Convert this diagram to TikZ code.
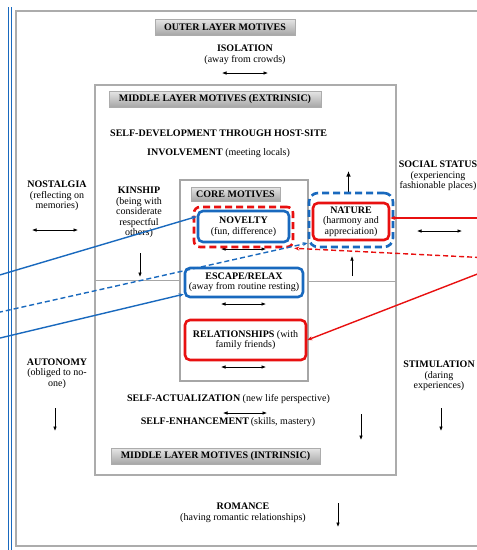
\documentclass[tikz,border=0pt]{standalone}
\usepackage{fontspec}
\setmainfont{Liberation Serif}
\usetikzlibrary{arrows.meta}
\definecolor{cblue}{RGB}{25,105,190}
\definecolor{cred}{RGB}{232,16,16}
\begin{document}
\begin{tikzpicture}[x=1pt,y=-1pt,
  every node/.style={font=\fontsize{10}{10.5}\selectfont, inner sep=0pt, align=center},
  titlebox/.style={top color=gray!20, bottom color=gray!70, draw=gray!65, line width=0.5pt,
    font=\fontsize{10}{10.5}\selectfont\bfseries, minimum height=16pt},
  dbl/.style={{Latex[length=4.5pt,width=3.6pt]}-{Latex[length=4.5pt,width=3.6pt]}, line width=0.7pt},
  dn/.style={-{Latex[length=4.5pt,width=3.6pt]}, line width=0.7pt},
  framebox/.style={draw=gray!65, line width=1.6pt},
  bluebox/.style={draw=cblue, line width=2.6pt, rounded corners=5pt},
  redbox/.style={draw=cred, line width=2.6pt, rounded corners=5pt},
  blueout/.style={draw=cblue, line width=2.6pt, rounded corners=9pt, dash pattern=on 7pt off 4pt},
  redout/.style={draw=cred, line width=2.6pt, rounded corners=6pt, dash pattern=on 7pt off 4pt},
  bconn/.style={draw=cblue, line width=1.4pt, -{Stealth[length=5pt,width=4pt]}},
  rconn/.style={draw=cred, line width=1.4pt, -{Stealth[length=5pt,width=4pt]}},
  dashc/.style={dash pattern=on 5pt off 3pt}
]
\path[use as bounding box] (0,0) rectangle (477,550);
\clip (0,0) rectangle (477,550);
\fill[white] (0,0) rectangle (477,550);

% left double blue line
\draw[cblue, line width=0.9pt] (8.5,7) -- (8.5,550);
\draw[cblue, line width=0.9pt] (11.5,7) -- (11.5,550);

% frames
\draw[framebox] (16,11) rectangle (495,546);
\draw[framebox] (95,85) rectangle (396,475);
\draw[draw=gray!70, line width=1.2pt] (180,180) rectangle (308,381);
\draw[gray!70, line width=0.8pt] (95,280) -- (180,280);
\draw[gray!70, line width=0.8pt] (308,281) -- (396,281);

% title boxes
\node[titlebox, minimum width=140pt] (outer) at (225,27) {OUTER LAYER MOTIVES};
\node[titlebox, minimum width=212pt] (extr) at (215,99) {MIDDLE LAYER MOTIVES (EXTRINSIC)};
\node[titlebox, minimum width=89pt, minimum height=14pt] (core) at (235.5,194) {CORE MOTIVES};
\node[titlebox, minimum width=209pt] (intr) at (215.5,456) {MIDDLE LAYER MOTIVES (INTRINSIC)};

% text nodes
\node (isol) at (245,55) {\textbf{ISOLATION}\\(away from crowds)};
\node[anchor=west] (selfdev) at (110,133) {\textbf{SELF-DEVELOPMENT THROUGH HOST-SITE}};
\node[anchor=west] (invol) at (147,153) {\textbf{INVOLVEMENT} (meeting locals)};
\node (nost) at (57,196) {\textbf{NOSTALGIA}\\(reflecting on\\memories)};
\node (kin) at (139,212.5) {\textbf{KINSHIP}\\(being with\\considerate\\respectful\\others)};
\node (soc) at (438,176) {\textbf{SOCIAL STATUS}\\(experiencing\\fashionable places)};
\node (auto) at (57,373.5) {\textbf{AUTONOMY}\\(obliged to no-\\one)};
\node (stim) at (439,376) {\textbf{STIMULATION}\\(daring\\experiences)};
\node (sact) at (228.5,399) {\textbf{SELF-ACTUALIZATION} (new life perspective)};
\node (senh) at (228,422) {\textbf{SELF-ENHANCEMENT}\,(skills, mastery)};
\node (rom) at (243,513) {\textbf{ROMANCE}\\(having romantic relationships)};

% small black arrows
\draw[dbl] (222,73) -- (268,73);
\draw[dbl] (32,230) -- (78,230);
\draw[dn] (140,253) -- (140,277);
\draw[dbl] (221,249) -- (266,249);
\draw[-{Latex[length=5.5pt,width=4.5pt]}, line width=1.3pt] (348.5,193) -- (348.5,171);
\draw[dn] (352,276) -- (352,256);
\draw[dbl] (417,231) -- (462,231);
\draw[dbl] (221,304) -- (266,304);
\draw[dbl] (221,367) -- (266,367);
\draw[dn] (55,408) -- (55,431);
\draw[dn] (441,408) -- (441,431);
\draw[dbl] (223,413) -- (267,413);
\draw[dn] (361,414) -- (361,440);
\draw[dn] (338,503) -- (338,527);

% core motive boxes
\node[redout, minimum width=99pt, minimum height=40pt] (novout) at (243.5,227) {};
\node[bluebox, minimum width=91pt, minimum height=31pt] (nov) at (243.5,226.5) {\textbf{NOVELTY}\\(fun, difference)};
\node[blueout, minimum width=84pt, minimum height=54pt] (natout) at (351,220) {};
\node[redbox, minimum width=76pt, minimum height=37pt] (nat) at (351,221.5) {\textbf{NATURE}\\(harmony and\\appreciation)};
\node[bluebox, minimum width=118pt, minimum height=29pt] (esc) at (244,282.5) {\textbf{ESCAPE/RELAX}\\(away from routine resting)};
\node[redbox, minimum width=121pt, minimum height=40pt] (rel) at (245.5,340) {\textbf{RELATIONSHIPS} (with\\family friends)};

% connector free ends
\coordinate (b1) at (-2,275.5);
\coordinate (b2) at (-2,312.5);
\coordinate (b3) at (-2,338.5);
\coordinate (r1) at (480,218);
\coordinate (r2) at (480,257.5);
\coordinate (r3) at (480,273);

\draw[bconn] (b1) -- (nov.168);
\draw[bconn, dashc] (b2) -- (natout.208);
\draw[bconn] (b3) -- (esc.191);
\draw[rconn] (r1) -- (r1 -| nat.east);
\draw[rconn, dashc] (r2) -- (novout.south east);
\draw[rconn] (r3) -- (rel.east);
\end{tikzpicture}
\end{document}
